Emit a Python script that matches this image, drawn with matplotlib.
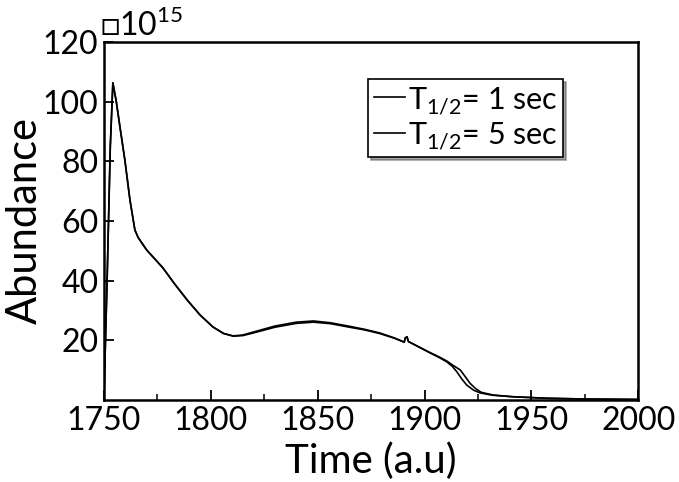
import matplotlib.pyplot as plt
from matplotlib.ticker import MultipleLocator

plt.rcParams["font.family"] = ["Lato", "DejaVu Sans"]
plt.rcParams["mathtext.fontset"] = "custom"
plt.rcParams["mathtext.rm"] = "Lato"

# time (a.u) and abundance (x 1e15)
time_1 = [1750, 1751.5, 1753, 1754.2, 1755.8, 1757.5, 1759.8, 1762.2, 1764.5, 1766,
          1770, 1777.6, 1783, 1789, 1795, 1801, 1806, 1810.5, 1815, 1820, 1830,
          1840, 1848, 1856, 1865, 1872, 1879, 1886, 1890.5, 1891, 1891.8, 1892.5,
          1896, 1902.6, 1907, 1910.4, 1913, 1915.1, 1917.5, 1919.8, 1923, 1926,
          1932, 1941.5, 1957.3, 1975, 2000]
abund_1 = [0, 40, 85, 106.3, 100, 91.6, 80.5, 67, 57, 54.5,
           50.3, 44.3, 39, 33.5, 28.5, 24.5, 22.3, 21.5, 21.8, 22.8, 24.8,
           26.1, 26.5, 25.9, 24.7, 23.7, 22.5, 20.8, 19.4, 20.8, 21.2, 19.6,
           18.3, 15.8, 14.2, 12.8, 11.3, 9.5, 7.0, 5.0, 3.3, 2.4,
           1.6, 1.1, 0.6, 0.35, 0.2]

time_2 = [1750, 1751.5, 1753, 1754.2, 1755.8, 1757.5, 1759.8, 1762.2, 1764.5, 1766,
          1770, 1777.6, 1783, 1789, 1795, 1801, 1806, 1810.5, 1815, 1820, 1830,
          1840, 1848, 1856, 1865, 1872, 1879, 1886, 1890.5, 1891, 1891.8, 1892.5,
          1896, 1902.6, 1907, 1910.4, 1913, 1916.7, 1919, 1921.3, 1924, 1926.5,
          1932, 1941.5, 1957.3, 1975, 2000]
abund_2 = [0, 40, 85, 106.3, 100, 91.6, 80.5, 67, 57, 54.5,
           50.3, 44.3, 39, 33.5, 28.5, 24.5, 22.3, 21.4, 21.6, 22.5, 24.4,
           25.7, 26.1, 25.6, 24.4, 23.5, 22.3, 20.7, 19.4, 20.8, 21.2, 19.6,
           18.3, 15.9, 14.4, 13.1, 11.8, 10.1, 7.9, 5.6, 3.8, 2.6,
           1.7, 1.1, 0.6, 0.35, 0.2]

labels = ["T$_\\mathregular{1/2}$= 1 sec", "T$_\\mathregular{1/2}$= 5 sec"]

fig = plt.figure(figsize=(6.79, 4.82), dpi=100)
ax = fig.add_axes([0.153, 0.170, 0.787, 0.743])

ax.plot(time_1, abund_1, color="black", lw=1.2, label=labels[0])
ax.plot(time_2, abund_2, color="black", lw=1.2, label=labels[1])

ax.set_xlim(1750, 2000)
ax.set_ylim(0, 120)
ax.xaxis.set_major_locator(MultipleLocator(50))
ax.xaxis.set_minor_locator(MultipleLocator(25))
ax.set_yticks([20, 40, 60, 80, 100, 120])
ax.tick_params(which="major", direction="in", length=7, width=1.3,
               labelsize=23, pad=4)
ax.tick_params(which="minor", direction="in", length=4, width=1.1)
for s in ax.spines.values():
    s.set_linewidth(1.8)

ax.set_xlabel("Time (a.u)", fontsize=29, labelpad=5)
ax.set_ylabel("Abundance", fontsize=30)
ax.yaxis.set_label_coords(-0.112, 0.5)
ax.text(-0.008, 1.0, "\u25a110$^\\mathregular{15}$", transform=ax.transAxes,
        fontsize=23, ha="left", va="bottom", family=["Lato", "DejaVu Sans"])

leg = ax.legend(loc="upper right", bbox_to_anchor=(0.86, 0.897), fontsize=22,
                frameon=True, fancybox=False, shadow=True, handlelength=1.0,
                handletextpad=0.1, borderpad=0.2, labelspacing=0.15,
                borderaxespad=0)
leg.get_frame().set_edgecolor("black")
leg.get_frame().set_linewidth(1.2)

fig.savefig("out.png", dpi=100)
